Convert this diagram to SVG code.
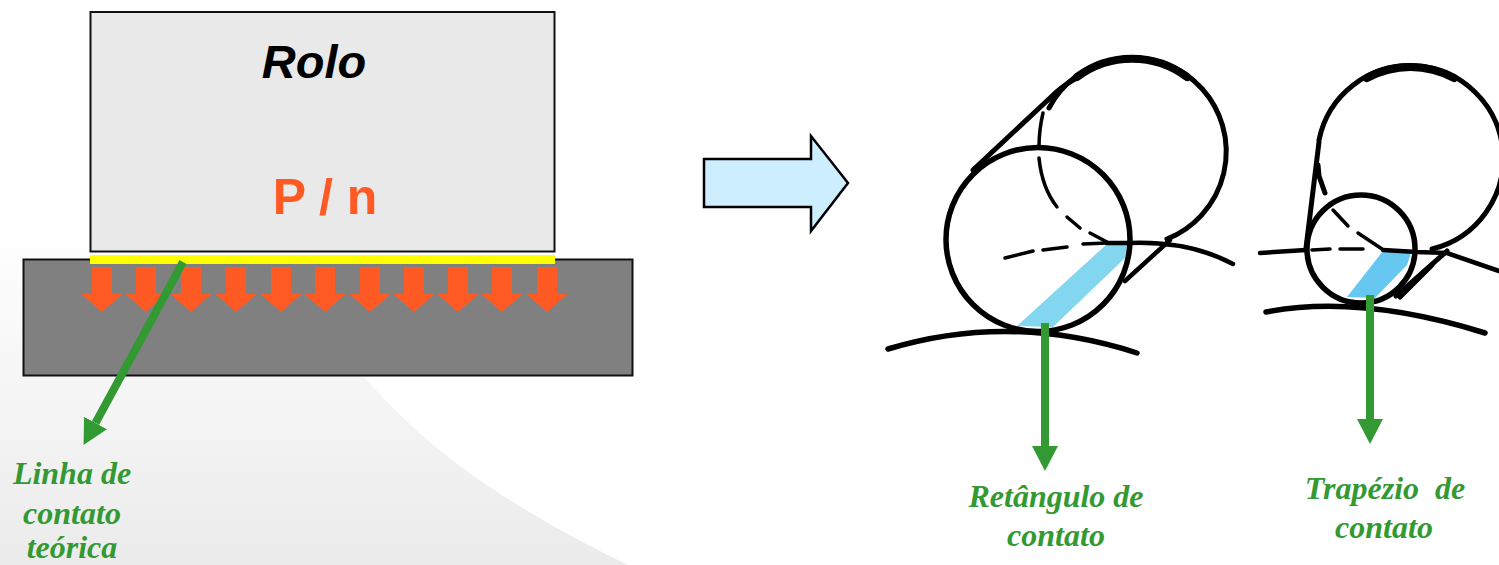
<svg xmlns="http://www.w3.org/2000/svg" width="1499" height="565" viewBox="0 0 1499 565">
<defs>
<linearGradient id="bg" x1="0" y1="225" x2="0" y2="565" gradientUnits="userSpaceOnUse"><stop offset="0" stop-color="#ffffff"/><stop offset="1" stop-color="#ebebeb"/></linearGradient>
<polygon id="down" points="-10,0 10,0 10,27 20.500,27 0,45 -20.500,27 -10,27" fill="#ff5a24"/>
<marker id="gh" markerUnits="userSpaceOnUse" markerWidth="25" markerHeight="26" refX="0" refY="13" orient="auto"><path d="M0,0 L25,13 L0,26 Z" fill="#339933"/></marker>
</defs>
<style>
.lab{font-family:"Liberation Serif","Times New Roman",serif;font-weight:bold;font-style:italic;font-size:32px;fill:#339933;text-anchor:middle}
.ink{fill:none;stroke:#000;stroke-linecap:round}
.green{stroke:#339933;stroke-width:8;fill:none}
</style>
<path d="M0,225 L120,225 L366,379 C420,440 485,495 628,565 L0,565 Z" fill="url(#bg)"/>
<g id="base"><rect x="23.500" y="259.500" width="609" height="116" fill="#808080" stroke="#111" stroke-width="2"/></g>
<g id="rolo"><rect x="90.500" y="12" width="464" height="239.500" fill="#e9e9e9" stroke="#111" stroke-width="2"/>
<text x="314" y="78" font-family="Liberation Sans,Arial,sans-serif" font-weight="bold" font-style="italic" font-size="47" text-anchor="middle">Rolo</text>
<text x="325" y="214" font-family="Liberation Sans,Arial,sans-serif" font-weight="bold" font-size="50" fill="#ff5a24" text-anchor="middle">P / n</text></g>
<g id="contact-line"><rect x="90" y="255" width="465" height="9" fill="#ffff00"/></g>
<g id="loads">
<use href="#down" x="102" y="267"/><use href="#down" x="146" y="267"/><use href="#down" x="191" y="267"/><use href="#down" x="236" y="267"/><use href="#down" x="281" y="267"/><use href="#down" x="325" y="267"/><use href="#down" x="370" y="267"/><use href="#down" x="414" y="267"/><use href="#down" x="458" y="267"/><use href="#down" x="502" y="267"/><use href="#down" x="547" y="267"/>
</g>
<g id="block-arrow"><polygon points="704,159 811,159 811,136 848,183 811,231 811,207 704,207" fill="#cceeff" stroke="#000" stroke-width="2.500"/></g>
<g id="cylinder-rect">
<polygon points="1017,326 1107,244 1129,245 1125,258 1053,327" fill="#83d6f0"/>
<circle class="ink" cx="1038" cy="239.500" r="92" stroke-width="5.500"/>
<path class="ink" stroke-width="5" d="M1049,108 A94,94 0 1 1 1167,239"/>
<path class="ink" stroke-width="8" d="M1077,77 A92,92 0 0 1 1187,77"/>
<path class="ink" stroke-width="5" d="M973,170 L1050,98 Q1062,86 1075,79"/>
<path class="ink" stroke-width="4.500" d="M1125,281 L1170,240"/>
<path class="ink" stroke-width="3.500" d="M1043,113 Q1039,130 1039,147 M1039,158 Q1042,188 1057,207 M1067,217 L1080,228 M1090,233 L1107,242"/>
<path class="ink" stroke-width="3.500" d="M1005,258 L1033,251 M1043,250 L1067,247 M1083,244 L1107,243"/>
<path class="ink" stroke-width="4.500" d="M1107,243 L1130,243 Q1190,241 1233,264"/>
<path class="ink" stroke-width="5.500" d="M888,349 Q1010,312 1137,353"/>
</g>
<g id="cylinder-trap">
<polygon points="1347,297 1383,251 1411,253 1407,265 1375,298" fill="#66c8f0"/>
<circle class="ink" cx="1361" cy="249" r="54" stroke-width="5.500"/>
<path class="ink" stroke-width="5" d="M1319,140 A93,93 0 1 1 1432,249"/>
<path class="ink" stroke-width="8" d="M1367,78 A91,91 0 0 1 1454,78"/>
<path class="ink" stroke-width="5" d="M1319,142 L1306,248 M1318,165 L1319,176 L1325,193 M1396,296 L1447,251 M1400,297 L1432,265"/>
<path class="ink" stroke-width="3.500" d="M1333,210 L1348,226 M1358,233 L1382,249"/>
<path class="ink" stroke-width="3.500" d="M1312,250 L1330,249 M1340,249 L1363,249"/>
<path class="ink" stroke-width="4.500" d="M1260,253 L1306,250 M1383,250 L1417,252 M1417,252 L1447,253 L1499,271"/>
<path class="ink" stroke-width="5.500" d="M1266,312 Q1360,294 1485,333"/>
</g>
<g id="connectors">
<line class="green" x1="183" y1="262" x2="95.500" y2="423" marker-end="url(#gh)"/>
<line class="green" x1="1045" y1="323" x2="1045" y2="446" marker-end="url(#gh)"/>
<line class="green" x1="1370" y1="295" x2="1370" y2="419" marker-end="url(#gh)"/>
</g>
<g id="labels">
<text class="lab" x="72" y="484">Linha de</text><text class="lab" x="72" y="524">contato</text><text class="lab" x="72" y="558">teórica</text>
<text class="lab" x="1056" y="507">Retângulo de</text><text class="lab" x="1056" y="546">contato</text>
<text class="lab" x="1385" y="499" xml:space="preserve">Trapézio  de</text><text class="lab" x="1384" y="538">contato</text>
</g>
</svg>
